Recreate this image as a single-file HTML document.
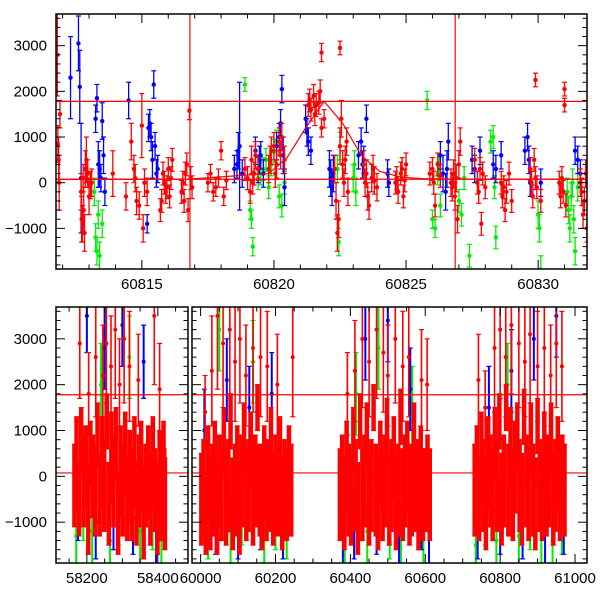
<!DOCTYPE html>
<html><head><meta charset="utf-8"><style>
body{margin:0;background:#fff}
svg{display:block}
text{font-family:"Liberation Sans",sans-serif;font-size:15px;fill:#000}
</style></head><body>
<svg id="chart" width="600" height="600" viewBox="0 0 600 600">
<defs>
<clipPath id="cTop"><rect x="56" y="14" width="531" height="255"/></clipPath>
<clipPath id="cBL"><rect x="56" y="307" width="132" height="256"/></clipPath>
<clipPath id="cBR"><rect x="192" y="307" width="395" height="256"/></clipPath>
</defs>
</svg>
<script>
// ---- top panel data (zoom) ----
const redT=[60811.8,60811.82,60811.85,60811.87,60811.9,60812.7,60812.72,60812.75,60812.78,60812.8,60812.83,60812.86,60812.9,60812.95,60813.0,60813.05,60813.1,60813.9,60814.4,60814.6,60814.7,60814.75,60814.8,60814.9,60815.0,60815.05,60815.1,60815.2,60815.7,60815.75,60815.8,60815.85,60815.9,60815.95,60816.0,60816.05,60816.1,60816.15,60816.5,60816.55,60816.6,60816.65,60816.7,60816.75,60816.8,60816.85,60816.9,60817.5,60817.6,60817.7,60817.8,60817.9,60818.0,60818.1,60818.2,60818.9,60819.0,60819.1,60819.15,60819.2,60819.25,60819.3,60819.4,60819.8,60819.85,60819.9,60820.0,60820.05,60820.1,60820.2,60820.25,60820.3,60820.4,60821.3,60821.35,60821.4,60821.5,60821.55,60821.6,60821.7,60821.75,60821.8,60821.9,60821.8,60822.3,60822.35,60822.4,60822.45,60822.5,60822.55,60822.5,60822.6,60822.65,60822.7,60822.75,60822.8,60823.4,60823.45,60823.5,60823.55,60823.6,60823.7,60823.75,60823.8,60823.9,60824.6,60824.65,60824.7,60824.8,60824.85,60824.9,60824.95,60825.0,60825.9,60826.0,60826.05,60826.1,60826.2,60826.3,60826.7,60826.75,60826.8,60826.85,60826.9,60826.95,60827.0,60827.05,60827.6,60827.7,60827.75,60827.8,60827.85,60827.9,60828.0,60828.6,60828.65,60828.7,60828.75,60828.8,60828.9,60829.0,60829.7,60829.75,60829.8,60829.85,60829.9,60829.95,60829.9,60830.1,60830.8,60830.85,60830.9,60830.95,60831.0,60831.0,60831.05,60831.6,60831.65,60831.7,60831.75,60831.8,60831.85];
const redV=[2800,850,500,0,1500,-200,-800,-900,100,-600,-1100,300,500,200,-300,-50,0,200,-300,900,300,100,-400,-500,1250,-1000,0,-200,-600,-400,200,0,-200,-100,300,-300,100,500,-200,0,-400,200,400,-600,1580,100,-100,0,200,-200,-100,100,700,-300,50,300,100,-200,500,0,200,600,300,300,500,700,800,200,400,900,600,1000,500,1700,1800,1600,1900,1500,1700,1750,2000,1200,1400,2850,300,-400,-1100,-800,800,1400,2950,400,0,500,900,-200,400,0,200,-300,-500,100,300,50,-100,0,100,-200,200,300,-300,50,400,200,300,0,-500,400,150,0,-100,200,-300,100,-800,400,900,500,0,-200,300,-900,200,-100,0,-300,-100,-600,-200,200,-400,300,0,-300,500,100,-100,2250,-400,0,-300,100,-200,2050,1700,-500,0,-200,-700,-400,200,-1000];
const redE=[900,400,500,600,300,400,500,400,300,500,400,400,500,300,400,300,300,500,300,400,300,300,300,300,700,300,300,300,250,250,250,250,250,250,250,250,250,250,250,250,250,250,250,250,200,250,250,200,200,200,200,200,200,200,200,250,250,250,300,250,250,300,250,300,300,300,300,300,300,300,300,300,300,250,250,250,250,250,250,250,250,200,200,200,300,400,400,400,400,400,150,300,300,300,300,300,300,300,300,300,300,300,300,300,300,250,250,250,250,250,250,250,250,250,250,250,250,250,250,300,300,300,300,300,300,300,300,250,250,250,250,250,250,250,250,250,250,250,250,250,250,250,250,250,250,250,250,150,250,250,250,250,250,150,150,250,300,300,300,300,300,300];
const bluT=[60812.3,60812.6,60812.65,60812.7,60813.25,60813.3,60813.35,60813.4,60813.45,60813.5,60813.55,60813.6,60814.5,60815.25,60815.3,60815.35,60815.4,60815.45,60815.5,60815.55,60815.6,60815.2,60818.5,60818.6,60818.65,60818.7,60818.8,60819.3,60819.4,60819.45,60819.5,60819.6,60820.1,60820.2,60820.25,60820.3,60820.35,60820.4,60821.2,60821.25,60821.3,60821.4,60822.1,60822.15,60822.2,60822.25,60823.2,60823.3,60823.35,60823.4,60823.5,60824.3,60824.35,60826.3,60826.4,60826.5,60826.55,60826.6,60827.5,60827.6,60827.8,60828.3,60828.4,60828.6,60829.5,60829.6,60829.65,60829.7,60830.1,60831.4,60831.5,60831.6];
const bluV=[2300,3050,2100,100,1400,1850,400,300,100,1350,600,-200,1800,1200,1300,1000,500,2150,800,200,300,-900,300,400,700,800,200,700,300,500,600,200,800,1000,1300,2050,600,-100,1400,1100,900,700,300,100,-100,200,600,900,400,500,1400,200,0,600,200,-200,300,900,500,300,700,400,300,600,700,1000,500,0,0,700,500,200];
const bluE=[900,600,800,1200,300,300,500,400,300,400,400,300,400,300,300,300,400,300,300,300,300,200,300,300,400,1400,300,300,300,300,300,300,300,300,300,300,400,400,300,300,300,300,400,400,400,400,300,300,300,300,300,300,300,300,400,400,400,400,300,300,300,300,300,300,300,300,300,300,300,300,300,300];
const grnT=[60813.2,60813.25,60813.3,60813.35,60813.4,60813.5,60818.9,60819.1,60819.15,60819.2,60819.4,60819.5,60819.6,60819.7,60819.8,60819.9,60820.0,60820.1,60820.2,60820.3,60820.4,60822.4,60822.45,60822.5,60823.0,60823.05,60823.1,60825.8,60826.0,60826.1,60826.2,60826.25,60826.3,60827.0,60827.1,60827.2,60827.4,60828.2,60828.3,60828.35,60828.4,60830.0,60830.05,60830.1,60831.1,60831.15,60831.2,60831.25,60831.3,60831.35,60831.4,60831.5];
const grnV=[-200,-1200,-1500,-700,-1600,-900,2150,-600,-800,-1400,100,200,300,500,-100,400,700,900,-300,-500,0,300,-1300,800,100,400,-200,1800,-800,-1000,200,300,-500,-400,-700,100,-1600,900,1000,-100,-1200,-700,-1000,-1900,-200,-600,-1000,-300,0,-800,-1500,-100];
const grnE=[300,300,300,300,300,300,150,200,200,200,250,250,250,250,250,250,250,250,250,250,250,300,300,300,300,300,300,200,200,200,250,250,250,250,250,250,250,250,250,250,250,300,300,300,300,300,300,300,300,300,300,300];
// model curve (top panel)
const modelT=[60811.75,60816.8,60819.8,60820.5,60821.2,60821.9,60822.6,60823.3,60824.0,60824.8,60825.6,60826.8,60831.85];
const modelV=[70,80,200,550,1200,1780,1300,600,250,120,90,80,80];
// reference lines
const hLines=[1780,75];
const vLines=[60816.82,60826.86];

// ---- bottom panel data (full baseline) ----
const bRedT=[58165,58171,58178,58184,58191,58197,58204,58210,58217,58223,58230,58236,58243,58249,58256,58262,58269,58275,58282,58288,58295,58301,58308,58314,58321,58327,58334,58340,58347,58353,58360,58366,58373,58379,58386,58392,58399,58405,58411,58416,58420,58418,
60002,60008,60014,60020,60026,60032,60038,60044,60050,60056,60062,60068,60074,60080,60086,60092,60098,60104,60110,60116,60122,60128,60134,60140,60146,60152,60158,60164,60170,60176,60182,60188,60194,60200,60206,60212,60218,60224,60230,60236,60242,
60372,60378,60384,60390,60396,60402,60408,60414,60420,60426,60432,60438,60444,60450,60456,60462,60468,60474,60480,60486,60492,60498,60504,60510,60516,60522,60528,60534,60540,60546,60552,60558,60564,60570,60576,60582,60588,60594,60600,60606,60612,
60732,60738,60744,60750,60756,60762,60768,60774,60780,60786,60792,60798,60804,60810,60816,60822,60828,60834,60840,60846,60852,60858,60864,60870,60876,60882,60888,60894,60900,60906,60912,60918,60924,60930,60936,60942,60948,60954,60960,60966,60972];
const bRedV=[-200,300,-500,800,-100,200,-700,500,0,-300,900,-400,300,-200,1200,-600,400,-100,700,-800,100,-300,500,-500,0,-400,300,-600,-100,200,-800,-200,100,-500,300,-300,-700,0,-400,200,-600,-300,
-500,-200,-800,100,-600,-300,300,-700,-100,-400,800,-500,-200,1200,-600,-300,200,-700,-100,900,-400,-200,600,-500,-100,1500,-300,-600,100,-400,-200,800,-500,-100,-300,400,-600,-200,-400,100,-300,
-400,-100,-600,200,-300,-500,800,-200,-700,1200,-400,-100,900,-500,-200,1500,-300,-600,300,-400,-100,1000,-500,-200,400,-600,-300,1300,-400,-100,200,-500,-300,800,-200,-600,100,-400,-300,-100,-400,
-300,100,-500,400,-200,-600,300,-100,-400,700,-200,1200,-500,-100,1500,-300,600,-400,200,900,-200,-500,1300,-100,-400,800,-300,-600,1100,-200,-400,500,-300,-100,900,-500,-200,300,-400,-100,-300];
const bRedE=[900,1000,800,700,1000,900,1000,700,900,1000,700,900,1000,1000,600,900,1000,1000,800,900,1000,1000,900,900,1000,1000,1000,900,1000,1000,1000,900,1000,1000,1000,900,1000,1000,1000,1000,1000,900,
1000,1000,900,1000,1000,1000,900,1000,1000,1000,700,1000,1000,600,1000,1000,900,1000,1000,700,1000,1000,800,1000,1000,500,1000,1000,1000,1000,1000,700,1000,1000,1000,900,1000,1000,1000,1000,1000,
1000,1000,1000,1000,1000,1000,700,1000,1000,600,1000,1000,700,1000,1000,500,1000,1000,900,1000,1000,700,1000,1000,900,1000,1000,600,1000,1000,1000,1000,1000,800,1000,1000,1000,1000,900,1000,1000,
1000,1000,900,1000,1000,1000,1000,1000,1000,800,1000,600,1000,1000,500,1000,900,1000,1000,700,1000,1000,600,1000,1000,800,1000,1000,600,1000,1000,900,1000,1000,700,1000,1000,1000,1000,1000,1000];
// high outlier spikes (bottom panels)
const bSpkT=[58180,58205,58225,58245,58255,58268,58280,58292,58305,58320,58345,58390,58405,60012,60030,60045,60060,60078,60092,60105,60121,60140,60160,60178,60205,60246,60392,60412,60432,60450,60470,60488,60500,60520,60540,60556,60590,60605,60742,60760,60785,60800,60815,60830,60850,60866,60880,60900,60918,60935,60950,60965];
const bSpkV=[2900,1800,2600,2200,2900,2400,3200,2000,3000,2400,2100,3500,1900,1400,2300,3500,2900,3200,2500,3000,2200,2800,2600,2400,2000,2600,1800,2300,3000,2500,3200,2700,2200,3000,2400,2600,2100,2000,2100,1500,2800,3200,2600,3300,2900,2500,3100,2400,2800,2200,2900,2400];
const bSpkE=[1200,900,1300,1100,1300,1100,1500,1000,1400,1200,1000,1500,1000,800,1200,1600,1400,1500,1300,1400,1100,1400,1300,1200,1100,1300,900,1100,1500,1200,1500,1300,1100,1400,1200,1300,1100,1000,1000,800,1400,1500,1300,1500,1400,1200,1500,1200,1400,1100,1400,1200];
const bBluT=[58175,58200,58225,58250,58275,58300,58330,58360,58395,58415,60010,60040,60070,60100,60130,60160,60190,60220,60240,60380,60410,60440,60470,60500,60530,60560,60590,60610,60740,60770,60800,60830,60860,60890,60920,60950,60970];
const bBluV=[-700,3500,-1000,2800,-800,3300,-900,2500,-1100,-700,1000,-900,2100,-1000,1500,-800,1800,-1000,-600,-1200,-1000,3000,-900,3400,-1100,1900,-800,-1200,-1000,1500,-900,2300,-1000,3000,-1100,3500,-900];
const bBluE=[700,800,800,900,800,900,800,800,800,700,900,800,900,800,900,800,900,800,700,700,800,900,800,900,800,900,800,700,800,900,800,900,800,900,800,900,800];
const bGrnT=[58170,58190,58215,58240,58265,58290,58320,58350,58385,58410,60020,60050,60080,60110,60140,60170,60200,60230,60385,60415,60445,60475,60505,60535,60565,60595,60735,60760,60790,60820,60850,60880,60910,60940,60965];
const bGrnV=[-1300,-700,-1200,2000,-1400,-800,2600,-1200,-900,-1300,-1100,3200,-1200,-800,2500,-1300,-900,-1100,-1400,1800,-1200,2800,-1100,-1300,1500,-1200,-1500,-800,-1400,2000,-1300,-900,-1200,-1400,-1000];
const bGrnE=[600,700,700,900,700,700,900,700,700,600,700,900,700,700,900,700,700,700,700,900,700,900,700,700,900,700,700,700,700,900,700,700,700,700,700];

const NS="http://www.w3.org/2000/svg";
const svg=document.getElementById('chart');
function mk(tag,attrs,parent){const e=document.createElementNS(NS,tag);for(const k in attrs)e.setAttribute(k,attrs[k]);(parent||svg).appendChild(e);return e;}

const Y0=-1890,Y1=3694;
function yTop(v){return 269-(v-Y0)/(Y1-Y0)*255;}
function yBot(v){return 563-(v-Y0)/(Y1-Y0)*256;}
function xTop(t){return 56+(t-60811.75)/(60831.85-60811.75)*531;}
function xBL(t){return 56+(t-58113)/(58485-58113)*132;}
function xBR(t){return 192+(t-59977)/(61032-59977)*395;}

function drawPoints(g,T,V,E,color,xf,yf,w,r){
  for(let i=0;i<T.length;i++){
    const x=xf(T[i]),y=yf(V[i]),y1=yf(V[i]-E[i]),y2=yf(V[i]+E[i]);
    const bar=mk('line',{x1:x,x2:x,y1:y1,y2:y2,stroke:color,'stroke-width':w},g);
    
    
    mk('line',{x1:x-2.5,x2:x+2.5,y1:y1,y2:y1,stroke:color,'stroke-width':1.2},g);
    mk('line',{x1:x-2.5,x2:x+2.5,y1:y2,y2:y2,stroke:color,'stroke-width':1.2},g);
    const c=mk('circle',{cx:x,cy:y,r:r,fill:color},g);
    
    
  }
}
function frame(x,y,w,h,name){
  const r=mk('rect',{x:x,y:y,width:w,height:h,fill:'none',stroke:'#000','stroke-width':1.5});
  
  
}
function yTicks(x0,x1,yf,lbl){
  for(let v=-1800;v<=3600;v+=200){
    const y=yf(v);const maj=v%1000===0;const L=maj?9:4.5;
    mk('line',{x1:x0,x2:x0+L,y1:y,y2:y,stroke:'#000','stroke-width':1});
    mk('line',{x1:x1,x2:x1-L,y1:y,y2:y,stroke:'#000','stroke-width':1});
    if(maj&&lbl){const t=mk('text',{x:x0-9,y:y+5,'text-anchor':'end'});t.textContent=(v<0?'\u22121000':v);
      }
  }
}
function xTicks(xf,a,b,minor,major,yT,yB,lblY){
  for(let t=Math.ceil(a/minor)*minor;t<=b;t+=minor){
    const x=xf(t);const maj=t%major===0;const L=maj?9:4.5;
    mk('line',{x1:x,x2:x,y1:yB,y2:yB-L,stroke:'#000','stroke-width':1});
    mk('line',{x1:x,x2:x,y1:yT,y2:yT+L,stroke:'#000','stroke-width':1});
    if(maj){const tx=mk('text',{x:x,y:lblY,'text-anchor':'middle'});tx.textContent=t;
      }
  }
}

// ---- top panel ----
const gT=mk('g',{'clip-path':'url(#cTop)'});


drawPoints(gT,grnT,grnV,grnE,'#00ee00',xTop,yTop,1.3,2.2);
drawPoints(gT,bluT,bluV,bluE,'#0000ff',xTop,yTop,1.3,2.2);
drawPoints(gT,redT,redV,redE,'#ff0000',xTop,yTop,1.3,2.2);
hLines.forEach(v=>mk('line',{x1:56,x2:587,y1:yTop(v),y2:yTop(v),stroke:'#ff0000','stroke-width':1.2},gT));
vLines.forEach(t=>mk('line',{x1:xTop(t),x2:xTop(t),y1:14,y2:269,stroke:'#ff0000','stroke-width':1.2},gT));
const model=mk('polyline',{points:modelT.map((t,i)=>xTop(t)+','+yTop(modelV[i])).join(' '),fill:'none',stroke:'#ff0000','stroke-width':1.2},gT);


frame(56,14,531,255,'top-panel-frame');
yTicks(56,587,yTop,true);
xTicks(xTop,60812,60831,1,5,14,269,289);

// ---- bottom panels ----
[['cBL',xBL,58113,58485,56,188],['cBR',xBR,59977,61032,192,587]].forEach(([clip,xf,a,b,x0,x1])=>{
  const g=mk('g',{'clip-path':'url(#'+clip+')'});
  
  
  const sel=(T,V,E)=>{const m=T.map(t=>t>=a&&t<=b);return [T.filter((_,i)=>m[i]),V.filter((_,i)=>m[i]),E.filter((_,i)=>m[i])];};
  drawPoints(g,...sel(bGrnT,bGrnV,bGrnE),'#00ee00',xf,yBot,2,2);
  drawPoints(g,...sel(bBluT,bBluV,bBluE),'#0000ff',xf,yBot,2,2);
  drawPoints(g,...sel(bSpkT,bSpkV,bSpkE),'#ff0000',xf,yBot,1.6,2);
  drawPoints(g,...sel(bRedT,bRedV,bRedE),'#ff0000',xf,yBot,4.5,2);
  hLines.forEach(v=>mk('line',{x1:x0,x2:x1,y1:yBot(v),y2:yBot(v),stroke:'#ff0000','stroke-width':1.2},g));
  frame(x0,307,x1-x0,256,'bottom-panel-frame');
  yTicks(x0,x1,yBot,x0===56);
  xTicks(xf,a,b,50,200,307,563,583);
});
</script>
</body></html>
